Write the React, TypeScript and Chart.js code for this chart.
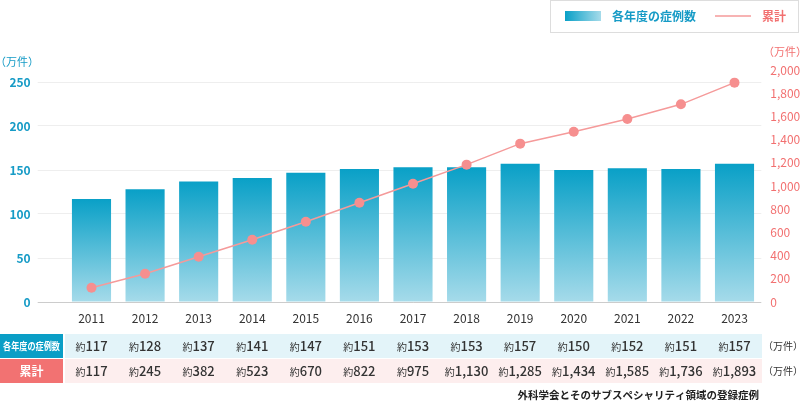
import React, { useEffect, useRef } from 'react';
import { Chart, registerables } from 'chart.js';

Chart.register(...registerables);

const years = ['2011', '2012', '2013', '2014', '2015', '2016', '2017', '2018', '2019', '2020', '2021', '2022', '2023'];
// bar heights and table values
const annualCases = [117, 128, 137, 141, 147, 151, 153, 153, 157, 150, 152, 151, 157];
// table values for the cumulative row
const cumulativeCases = [117, 245, 382, 523, 670, 822, 975, 1130, 1285, 1434, 1585, 1736, 1893];
// cumulative line as plotted in the picture
const cumulativePlotted = [123, 244, 390, 537, 692, 856, 1020, 1184, 1365, 1468, 1578, 1704, 1891];
const leftTicks = [0, 50, 100, 150, 200, 250];
const rightTicks = [0, 200, 400, 600, 800, 1000, 1200, 1400, 1600, 1800, 2000];
const annualSeriesName = '各年度の症例数';
const cumulativeSeriesName = '累計';
const unitLabel = '（万件）';
const approxPrefix = '約';
const sourceNote = '外科学会とそのサブスペシャリティ領域の登録症例';

const FONT = '"Noto Sans CJK JP", "Noto Sans", sans-serif';
const BLUE = '#169bc6';
const BAR_TOP = '#09a0c7';
const BAR_BOTTOM = '#a6dbea';
const SALMON = '#f27070';
const LINE = '#f59a9a';
const POINT = '#f68f8f';

const fmt = (v: number) => v.toLocaleString('en-US');

const overlayPlugin = {
  id: 'overlay',
  afterDraw(chart: any) {
    const ctx: CanvasRenderingContext2D = chart.ctx;
    const xs = chart.scales.x;
    ctx.save();

    // unit labels for axes
    ctx.textBaseline = 'middle';
    ctx.textAlign = 'left';
    ctx.font = `11px ${FONT}`;
    ctx.fillStyle = BLUE;
    ctx.fillText(unitLabel, -5, 62);
    ctx.fillStyle = SALMON;
    ctx.fillText(unitLabel, 763, 52);

    // legend
    ctx.fillStyle = '#ffffff';
    ctx.fillRect(550.5, 0.5, 248, 32);
    ctx.strokeStyle = '#dddddd';
    ctx.lineWidth = 1;
    ctx.strokeRect(550.5, 0.5, 248, 32);
    const lg = ctx.createLinearGradient(565, 0, 601, 0);
    lg.addColorStop(0, BAR_TOP);
    lg.addColorStop(1, BAR_BOTTOM);
    ctx.fillStyle = lg;
    ctx.fillRect(565, 11, 36, 10);
    ctx.font = `bold 12px ${FONT}`;
    ctx.fillStyle = BLUE;
    ctx.fillText(annualSeriesName, 612, 16);
    ctx.strokeStyle = LINE;
    ctx.lineWidth = 1.5;
    ctx.beginPath();
    ctx.moveTo(715, 16);
    ctx.lineTo(751, 16);
    ctx.stroke();
    ctx.fillStyle = SALMON;
    ctx.fillText(cumulativeSeriesName, 762, 16);

    // table
    const rows = [
      { name: annualSeriesName, values: annualCases, head: '#0a9ec6', bg: '#e3f4f9', y: 334, h: 24, headFont: `bold 10px ${FONT}` },
      { name: cumulativeSeriesName, values: cumulativeCases, head: '#f27272', bg: '#fdeeee', y: 359, h: 24, headFont: `bold 12px ${FONT}` },
    ];
    rows.forEach((r) => {
      ctx.fillStyle = r.head;
      ctx.fillRect(0, r.y, 63, r.h);
      ctx.fillStyle = r.bg;
      ctx.fillRect(65, r.y, 697, r.h);
      ctx.fillStyle = '#ffffff';
      ctx.font = r.headFont;
      ctx.textAlign = 'center';
      ctx.fillText(r.name, 31.5, r.y + r.h / 2, 57);
      const cy = r.y + r.h / 2;
      r.values.forEach((v, i) => {
        const cx = xs.getPixelForValue(i);
        const num = fmt(v);
        ctx.font = `10px ${FONT}`;
        const w1 = ctx.measureText(approxPrefix).width;
        ctx.font = `500 13px ${FONT}`;
        const w2 = ctx.measureText(num).width;
        const start = cx - (w1 + w2) / 2;
        ctx.textAlign = 'left';
        ctx.fillStyle = '#333333';
        ctx.font = `10px ${FONT}`;
        ctx.fillText(approxPrefix, start, cy + 1);
        ctx.font = `500 13px ${FONT}`;
        ctx.fillText(num, start + w1, cy);
      });
      ctx.textAlign = 'left';
      ctx.font = `10px ${FONT}`;
      ctx.fillStyle = '#333333';
      ctx.fillText(unitLabel, 763, cy);
    });

    // source note
    ctx.textAlign = 'right';
    ctx.font = `bold 10.5px ${FONT}`;
    ctx.fillStyle = '#222222';
    ctx.fillText(sourceNote, 759, 395);

    ctx.restore();
  },
};

export default function App() {
  const ref = useRef<HTMLCanvasElement>(null);

  useEffect(() => {
    document.body.style.margin = '0';
    const canvas = ref.current;
    if (!canvas) return;
    Chart.defaults.font.family = FONT;

    const chart = new Chart(canvas, {
      data: {
        labels: years,
        datasets: [
          {
            type: 'line',
            label: cumulativeSeriesName,
            data: cumulativePlotted,
            yAxisID: 'y2',
            order: 0,
            borderColor: LINE,
            borderWidth: 1.5,
            pointRadius: 5,
            pointBackgroundColor: POINT,
            pointBorderWidth: 0,
            tension: 0,
          },
          {
            type: 'bar',
            label: annualSeriesName,
            data: annualCases,
            yAxisID: 'y',
            order: 1,
            categoryPercentage: 1,
            barPercentage: 0.73,
            backgroundColor: (c: any) => {
              const chart = c.chart;
              const ys = chart.scales.y;
              if (!ys || !chart.chartArea || c.raw == null) return BAR_TOP;
              const top = ys.getPixelForValue(c.raw);
              const bottom = ys.getPixelForValue(0);
              if (!isFinite(top) || !isFinite(bottom) || top === bottom) return BAR_TOP;
              const g = chart.ctx.createLinearGradient(0, top, 0, bottom);
              g.addColorStop(0, BAR_TOP);
              g.addColorStop(1, BAR_BOTTOM);
              return g;
            },
          },
        ],
      } as any,
      options: {
        responsive: false,
        animation: false,
        layout: { padding: { top: 70, left: 0, right: 0, bottom: 0 } },
        plugins: { legend: { display: false }, tooltip: { enabled: false } },
        scales: {
          x: {
            grid: { display: false, drawTicks: false },
            border: { display: false },
            ticks: { color: '#333333', font: { size: 12 }, padding: 9 },
            afterFit: (s: any) => { s.height = 103; },
          },
          y: {
            position: 'left',
            min: 0,
            max: 250 * 232 / 220,
            border: { display: false },
            grid: {
              color: (c: any) => (c.tick && c.tick.value === 0 ? '#cccccc' : '#eeeeee'),
              tickLength: 27,
              lineWidth: 1,
            },
            ticks: { color: BLUE, font: { size: 12, weight: 'bold' }, padding: 7 },
            afterBuildTicks: (s: any) => { s.ticks = leftTicks.map((v) => ({ value: v })); },
            afterFit: (s: any) => { s.width = 64.7; },
          },
          y2: {
            position: 'right',
            min: 0,
            max: 2000,
            border: { display: false },
            grid: { display: false, drawTicks: false },
            ticks: { color: SALMON, font: { size: 12 }, padding: 9, callback: (v: any) => fmt(Number(v)) },
            afterBuildTicks: (s: any) => { s.ticks = rightTicks.map((v) => ({ value: v })); },
            afterFit: (s: any) => { s.width = 38.7; },
          },
        },
      } as any,
      plugins: [overlayPlugin],
    });
    return () => chart.destroy();
  }, []);

  return (
    <div style={{ width: 800, height: 405, position: 'relative' }}>
      <canvas ref={ref} width={800} height={405} style={{ display: 'block' }} />
    </div>
  );
}
